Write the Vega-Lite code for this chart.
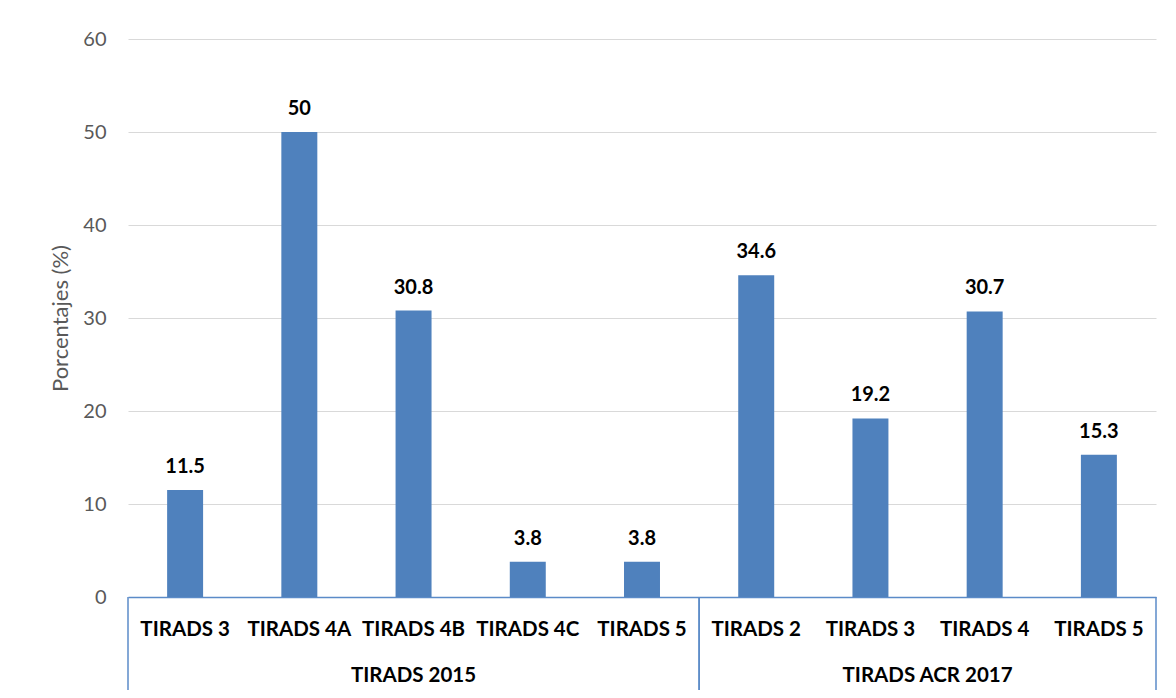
{
  "$schema": "https://vega.github.io/schema/vega-lite/v6.json",
  "autosize": {"type": "none"},
  "padding": {"left": 128, "top": 39, "right": 20, "bottom": 101},
  "width": 1028,
  "height": 558,
  "background": "#ffffff",
  "config": {"font": "Lato", "view": {"stroke": null}},
  "datasets": {
    "barras": [
      {"clasificacion": "TIRADS 2015", "categoria": "TIRADS 3", "id": "TIRADS 3|2015", "porcentaje": 11.5},
      {"clasificacion": "TIRADS 2015", "categoria": "TIRADS 4A", "id": "TIRADS 4A|2015", "porcentaje": 50},
      {"clasificacion": "TIRADS 2015", "categoria": "TIRADS 4B", "id": "TIRADS 4B|2015", "porcentaje": 30.8},
      {"clasificacion": "TIRADS 2015", "categoria": "TIRADS 4C", "id": "TIRADS 4C|2015", "porcentaje": 3.8},
      {"clasificacion": "TIRADS 2015", "categoria": "TIRADS 5", "id": "TIRADS 5|2015", "porcentaje": 3.8},
      {"clasificacion": "TIRADS ACR 2017", "categoria": "TIRADS 2", "id": "TIRADS 2|2017", "porcentaje": 34.6},
      {"clasificacion": "TIRADS ACR 2017", "categoria": "TIRADS 3", "id": "TIRADS 3|2017", "porcentaje": 19.2},
      {"clasificacion": "TIRADS ACR 2017", "categoria": "TIRADS 4", "id": "TIRADS 4|2017", "porcentaje": 30.7},
      {"clasificacion": "TIRADS ACR 2017", "categoria": "TIRADS 5", "id": "TIRADS 5|2017", "porcentaje": 15.3}
    ],
    "grupos": [
      {"clasificacion": "TIRADS 2015", "primera": "TIRADS 3|2015", "ultima": "TIRADS 5|2015", "centro": "TIRADS 4B|2015"},
      {"clasificacion": "TIRADS ACR 2017", "primera": "TIRADS 2|2017", "ultima": "TIRADS 5|2017", "centro": "TIRADS 3|2017"}
    ]
  },
  "encoding": {
    "x": {
      "type": "nominal",
      "scale": {
        "domain": ["TIRADS 3|2015", "TIRADS 4A|2015", "TIRADS 4B|2015", "TIRADS 4C|2015", "TIRADS 5|2015", "TIRADS 2|2017", "TIRADS 3|2017", "TIRADS 4|2017", "TIRADS 5|2017"],
        "paddingInner": 0,
        "paddingOuter": 0
      }
    },
    "y": {
      "type": "quantitative",
      "scale": {"domain": [0, 60], "nice": false}
    }
  },
  "layer": [
    {
      "data": {"name": "barras"},
      "mark": {"type": "bar", "color": "#4F81BD", "width": {"band": 0.315}},
      "encoding": {
        "x": {
          "field": "id",
          "type": "nominal",
          "axis": {
            "title": null,
            "labelExpr": "split(datum.value, '|')[0]",
            "labelFont": "Lato",
            "labelFontSize": 20.5,
            "labelFontWeight": "bold",
            "labelColor": "#000000",
            "labelAngle": 0,
            "labelPadding": 22,
            "ticks": false,
            "domainColor": "#5B8BC8",
            "domainWidth": 1.5,
            "grid": false
          }
        },
        "y": {
          "field": "porcentaje",
          "type": "quantitative",
          "axis": {
            "title": "Porcentajes (%)",
            "titleFont": "Lato",
            "titleFontSize": 22,
            "titleFontWeight": "normal",
            "titleColor": "#595959",
            "titlePadding": 10,
            "values": [0, 10, 20, 30, 40, 50, 60],
            "labelFont": "Lato",
            "labelFontSize": 20,
            "labelColor": "#595959",
            "labelPadding": 22,
            "ticks": false,
            "domain": false,
            "grid": true,
            "gridColor": "#D9D9D9",
            "gridWidth": 1.2
          }
        }
      }
    },
    {
      "data": {"name": "barras"},
      "mark": {"type": "text", "font": "Lato", "fontSize": 20, "fontWeight": "bold", "color": "#000000", "baseline": "alphabetic", "dy": -17},
      "encoding": {
        "x": {"field": "id", "type": "nominal"},
        "y": {"field": "porcentaje", "type": "quantitative"},
        "text": {"field": "porcentaje", "type": "quantitative"}
      }
    },
    {
      "data": {"name": "grupos"},
      "mark": {"type": "rule", "color": "#5B8BC8", "strokeWidth": 1.5},
      "encoding": {
        "x": {"field": "primera", "type": "nominal", "bandPosition": 0},
        "y": {"datum": 0},
        "y2": {"datum": -10}
      }
    },
    {
      "data": {"name": "grupos"},
      "mark": {"type": "rule", "color": "#5B8BC8", "strokeWidth": 1.5},
      "encoding": {
        "x": {"field": "ultima", "type": "nominal", "bandPosition": 1},
        "y": {"datum": 0},
        "y2": {"datum": -10}
      }
    },
    {
      "data": {"name": "grupos"},
      "transform": [{"filter": "datum.clasificacion === 'TIRADS 2015'"}],
      "mark": {"type": "text", "font": "Lato", "fontSize": 20.5, "fontWeight": "bold", "color": "#000000", "baseline": "middle"},
      "encoding": {
        "x": {"field": "centro", "type": "nominal", "bandPosition": 0.5},
        "y": {"datum": -8.5},
        "text": {"field": "clasificacion"}
      }
    },
    {
      "data": {"name": "grupos"},
      "transform": [{"filter": "datum.clasificacion === 'TIRADS ACR 2017'"}],
      "mark": {"type": "text", "font": "Lato", "fontSize": 20.5, "fontWeight": "bold", "color": "#000000", "baseline": "middle"},
      "encoding": {
        "x": {"field": "centro", "type": "nominal", "bandPosition": 1},
        "y": {"datum": -8.5},
        "text": {"field": "clasificacion"}
      }
    }
  ]
}
